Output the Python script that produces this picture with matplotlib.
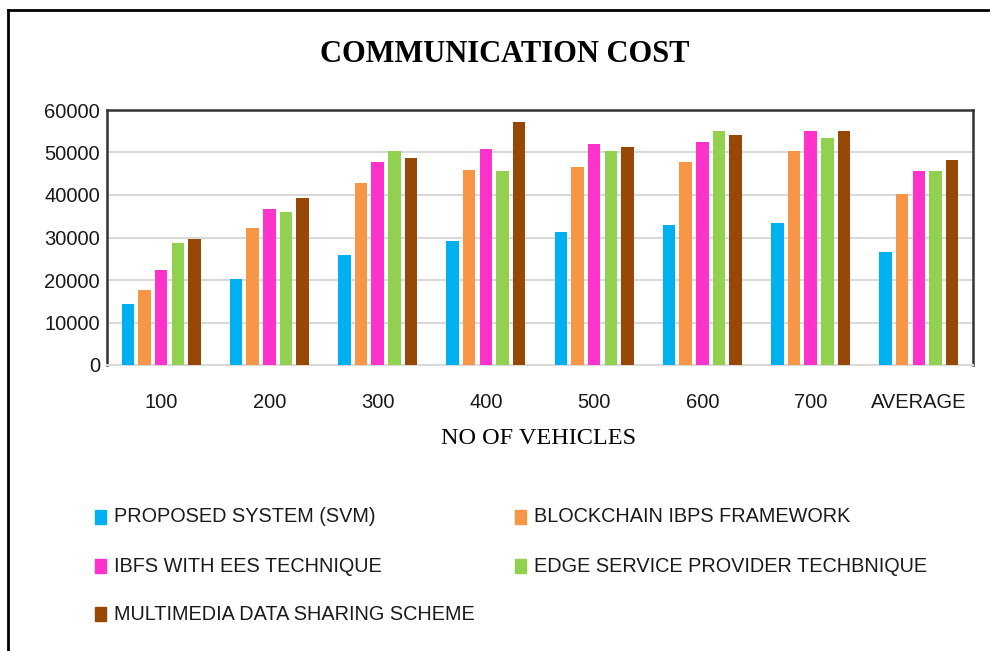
import matplotlib
matplotlib.use("Agg")
import matplotlib.pyplot as plt
import numpy as np
from matplotlib.lines import Line2D

categories = ["100", "200", "300", "400", "500", "600", "700", "AVERAGE"]
series_names = ["PROPOSED SYSTEM (SVM)", "BLOCKCHAIN IBPS FRAMEWORK",
                "IBFS WITH EES TECHNIQUE", "EDGE SERVICE PROVIDER TECHBNIQUE",
                "MULTIMEDIA DATA SHARING SCHEME"]
proposed = [14400, 20200, 26000, 29200, 31300, 32900, 33400, 26500]
blockchain = [17600, 32300, 42900, 46000, 46600, 47700, 50300, 40200]
ibfs = [22300, 36600, 47700, 50800, 51900, 52500, 55100, 45600]
edge = [28600, 36100, 50300, 45600, 50300, 55100, 53500, 45600]
multimedia = [29700, 39200, 48800, 57200, 51400, 54000, 55100, 48200]
colors = ["#00B0F0", "#F79646", "#FF33CC", "#92D050", "#974706"]
yticks = [0, 10000, 20000, 30000, 40000, 50000, 60000]

series = [proposed, blockchain, ibfs, edge, multimedia]

W, H = 990, 651
fig = plt.figure(figsize=(9.9, 6.51), dpi=100)
ax = fig.add_axes([107 / W, 1 - 365 / H, (973 - 107) / W, (365 - 110) / H])

x = np.arange(len(categories))
step = 0.154
bw = 0.115
for i, (vals, c) in enumerate(zip(series, colors)):
    ax.bar(x + (i - 2) * step, vals, width=bw, color=c, zorder=3)

ax.set_xlim(-0.5, len(categories) - 0.5)
ax.set_ylim(0, 60000)
ax.set_yticks(yticks)
ax.set_yticklabels([str(v) for v in yticks])
ax.set_xticks(x)
ax.set_xticklabels(categories)
ax.grid(axis="y", color="#d9d9d9", linewidth=1.5, zorder=0)
ax.tick_params(length=0, labelsize=14.5)
ax.tick_params(axis="y", pad=5)
ax.tick_params(axis="x", pad=20)
for lab in ax.get_xticklabels() + ax.get_yticklabels():
    lab.set_fontfamily(["Liberation Sans", "DejaVu Sans"])
    lab.set_color("#1a1a1a")
for s in ["left", "top", "right"]:
    ax.spines[s].set_color("#333333")
    ax.spines[s].set_linewidth(1.8)
ax.spines["bottom"].set_color("#d9d9d9")
ax.spines["bottom"].set_linewidth(1.5)

fig.text(505 / W, 1 - 55 / H, "COMMUNICATION COST", ha="center", va="center",
         fontsize=22, fontweight="bold", family=["Liberation Serif", "DejaVu Serif"])
fig.text(539 / W, 1 - 438 / H, "NO OF VEHICLES", ha="center", va="center",
         fontsize=17.5, family=["Liberation Serif", "DejaVu Serif"])

# legend entries
pos = [(100, 517), (520, 517), (100, 566), (520, 566), (100, 614)]
for (px, py), name, c in zip(pos, series_names, colors):
    fig.patches.append(plt.Rectangle(((px - 5) / W, 1 - (py + 7) / H), 11 / W, 14 / H,
                                     transform=fig.transFigure, color=c))
    fig.text((px + 14) / W, 1 - py / H, name, ha="left", va="center", fontsize=14.3,
             family=["Liberation Sans", "DejaVu Sans"], color="#1a1a1a")

# outer frame lines (left and top)
fig.add_artist(Line2D([8 / W, 8 / W], [0, 1 - 10 / H], transform=fig.transFigure, color="black", linewidth=2))
fig.add_artist(Line2D([8 / W, 1], [1 - 10 / H, 1 - 10 / H], transform=fig.transFigure, color="black", linewidth=2))

fig.savefig("out.png", dpi=100)
